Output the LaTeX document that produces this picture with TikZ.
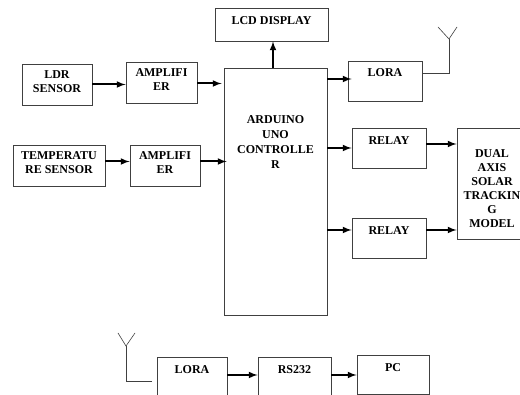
\documentclass[tikz,border=0pt]{standalone}
\usepackage{fontspec}
\setmainfont{Liberation Serif}
\tikzset{
    block/.style={draw=black!75, line width=0.9pt, inner sep=0pt, fill=none},
    blocktext/.style={align=center, inner sep=0pt, font=\fontsize{12}{14}\selectfont\bfseries},
    link/.style={draw=black, line width=2pt, -latex},
    aerial/.style={draw=black!75, line width=0.9pt}
}
\begin{document}
\begin{tikzpicture}[x=1pt, y=-1pt]
    \useasboundingbox (0,0) rectangle (520,395);
    \clip (0,0) rectangle (520,395);

    % input side
    \node[block, minimum width=70pt, minimum height=41pt, label={[blocktext, yshift=2.5pt]center:LDR\\SENSOR}] (ldr) at (57,84.5) {};
    \node[block, minimum width=71pt, minimum height=41pt, label={[blocktext, yshift=2.5pt]center:AMPLIFI\\ER}] (ampa) at (161.5,82.5) {};
    \node[block, minimum width=92pt, minimum height=41pt, label={[blocktext, yshift=2.5pt]center:TEMPERATU\\RE SENSOR}] (temp) at (59,165.5) {};
    \node[block, minimum width=70pt, minimum height=41pt, label={[blocktext, yshift=2.5pt]center:AMPLIFI\\ER}] (ampb) at (165,165.5) {};

    % controller and display
    \node[block, minimum width=103pt, minimum height=247pt, label={[blocktext, font=\fontsize{12}{15}\selectfont\bfseries, yshift=49.5pt]center:ARDUINO\\UNO\\CONTROLLE\\R}] (arduino) at (275.5,191.5) {};
    \node[block, minimum width=113pt, minimum height=33pt, label={[blocktext, yshift=3.5pt]center:LCD DISPLAY}] (lcd) at (271.5,24.5) {};

    % output side
    \node[block, minimum width=74pt, minimum height=40pt, label={[blocktext, yshift=8pt]center:LORA}] (lora) at (385,81) {};
    \node[block, minimum width=74pt, minimum height=40pt, label={[blocktext, yshift=7pt]center:RELAY}] (relaya) at (389,148) {};
    \node[block, minimum width=74pt, minimum height=40pt, label={[blocktext, yshift=7pt]center:RELAY}] (relayb) at (389,238) {};
    \node[block, minimum width=70pt, minimum height=111pt, label={[blocktext, yshift=-5pt]center:DUAL\\AXIS\\SOLAR\\TRACKIN\\G\\MODEL}] (dual) at (492,183.5) {};

    % receiver
    \node[block, minimum width=70pt, minimum height=40pt, label={[blocktext, yshift=7pt]center:LORA}] (lorab) at (192,377) {};
    \node[block, minimum width=73pt, minimum height=40pt, label={[blocktext, yshift=7pt]center:RS232}] (rs) at (294.5,377) {};
    \node[block, minimum width=72pt, minimum height=39pt, label={[blocktext, yshift=7pt]center:PC}] (pc) at (393,374.5) {};

    % arrows
    \draw[link] (ldr.east) -- (ldr.east -| ampa.west);
    \draw[link] ([yshift=-1pt]ampa.east) -- ([yshift=-1pt,xshift=-2pt]ampa.east -| arduino.west);
    \draw[link] ([yshift=4pt]temp.east) -- ([yshift=4pt]temp.east -| ampb.west);
    \draw[link] ([yshift=4pt]ampb.east) -- ([yshift=4pt,xshift=3pt]ampb.east -| arduino.west);
    \draw[link] ([xshift=1.5pt]arduino.north -| lcd.south) -- ([xshift=1.5pt]lcd.south);
    \draw[link] ([yshift=2pt]lora.west -| arduino.east) -- ([yshift=2pt,xshift=4pt]lora.west);
    \draw[link] (relaya.west -| arduino.east) -- (relaya.west);
    \draw[link] ([yshift=8pt]relayb.west -| arduino.east) -- ([yshift=8pt]relayb.west);
    \draw[link] ([yshift=4pt]relaya.east) -- ([yshift=4pt]relaya.east -| dual.west);
    \draw[link] ([yshift=8pt]relayb.east) -- ([yshift=8pt]relayb.east -| dual.west);
    \draw[link] ([yshift=2pt]lorab.east) -- ([yshift=2pt]lorab.east -| rs.west);
    \draw[link] ([yshift=2pt]rs.east) -- ([yshift=2pt]rs.east -| pc.west);

    % aerials
    \coordinate (mast) at (449,39);
    \coordinate (mastb) at (126,346);
    \coordinate (feed) at (152,381);
    \draw[aerial] ([yshift=8pt]lora.east) -| (mast);
    \draw[aerial, line width=0.6pt] (438,27) -- (mast) -- (457,27);
    \draw[aerial] (feed) -| (mastb);
    \draw[aerial, line width=0.6pt] (118,333) -- (mastb) -- (135,333);
\end{tikzpicture}
\end{document}
